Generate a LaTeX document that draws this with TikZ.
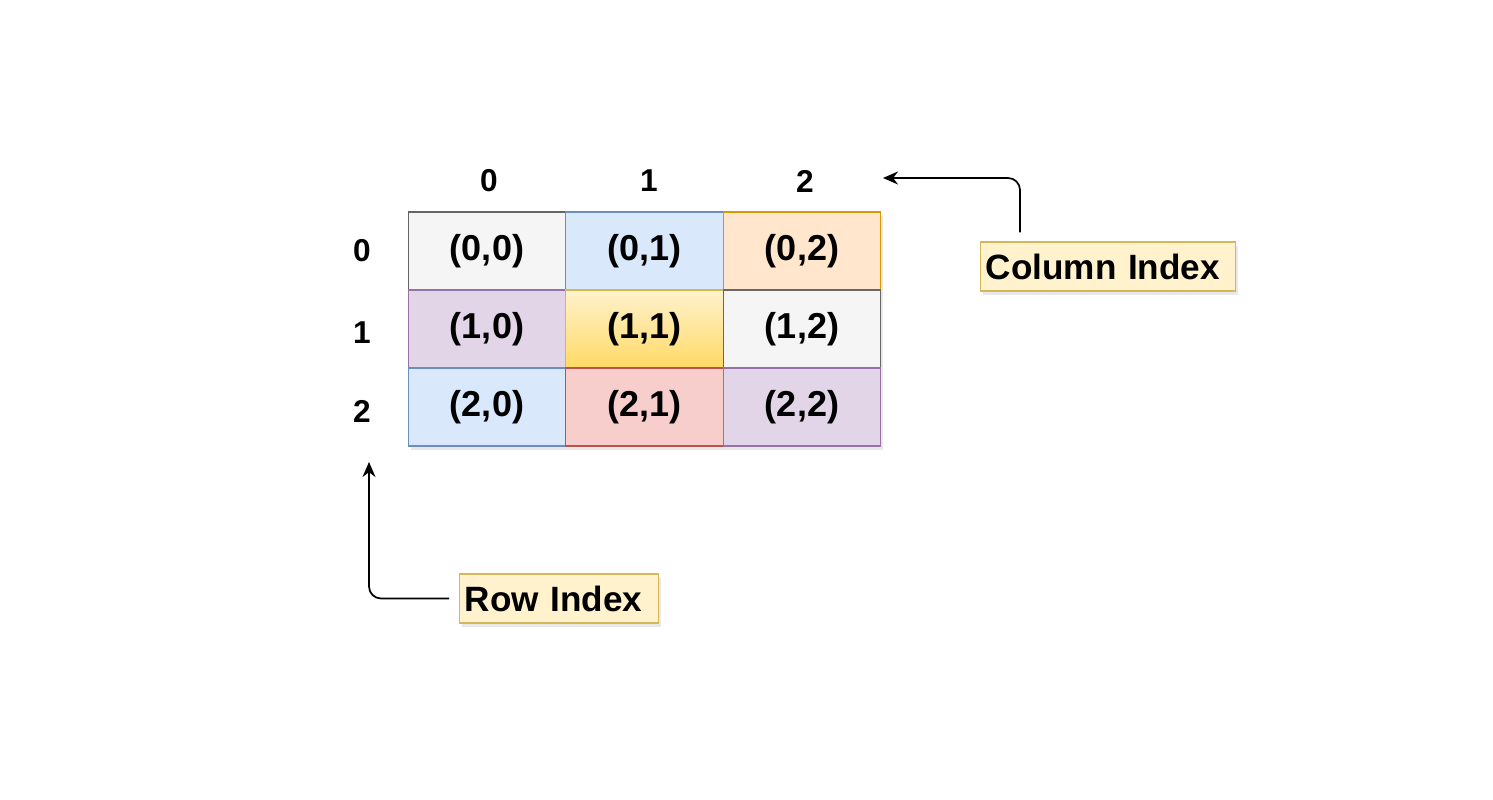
\documentclass[tikz,border=0pt]{standalone}
\usepackage{fontspec}
\setmainfont{Liberation Sans}
\usetikzlibrary{arrows.meta,shadows}

\definecolor{grayfill}{HTML}{F5F5F5}
\definecolor{graydraw}{HTML}{666666}
\definecolor{bluefill}{HTML}{DAE8FC}
\definecolor{bluedraw}{HTML}{6C8EBF}
\definecolor{orangefill}{HTML}{FFE6CC}
\definecolor{orangedraw}{HTML}{D79B00}
\definecolor{purplefill}{HTML}{E1D5E7}
\definecolor{purpledraw}{HTML}{9673A6}
\definecolor{redfill}{HTML}{F8CECC}
\definecolor{reddraw}{HTML}{B85450}
\definecolor{yellowfill}{HTML}{FFF2CC}
\definecolor{yellowdark}{HTML}{FFD966}
\definecolor{yellowdraw}{HTML}{D6B656}

\begin{document}
\begin{tikzpicture}[x=0.02cm,y=-0.02cm]
\tikzset{
  cell/.style={draw,line width=0.8pt,minimum width=3.15cm,minimum height=1.56cm,inner sep=0pt,
    font=\bfseries\fontsize{20.5}{24}\selectfont,
    drop shadow={opacity=0.18,shadow xshift=1.5pt,shadow yshift=-2pt}},
  index/.style={font=\bfseries\fontsize{18}{21}\selectfont,inner sep=1pt},
  note/.style={draw=yellowdraw,fill=yellowfill,line width=0.8pt,anchor=west,inner xsep=0.1cm,
    minimum height=0.98cm,align=left,font=\bfseries\fontsize{20}{24}\selectfont,
    drop shadow={opacity=0.18,shadow xshift=1.5pt,shadow yshift=-2pt}},
  pointer/.style={-{Stealth[length=3mm,width=2.6mm]},line width=1pt,rounded corners=0.24cm}
}
\useasboundingbox (0,0) rectangle (1493,800);
% grid cells
\node[cell,fill=grayfill,draw=graydraw] (c_00) at (487,251) {(0,0)};
\node[cell,fill=bluefill,draw=bluedraw] (c_01) at (644.5,251) {(0,1)};
\node[cell,fill=orangefill,draw=orangedraw] (c_02) at (802,251) {(0,2)};
\node[cell,fill=purplefill,draw=purpledraw] (c_10) at (487,329) {(1,0)};
\node[cell,top color=yellowfill,bottom color=yellowdark,draw=yellowdraw] (c_11) at (644.5,329) {(1,1)};
\node[cell,fill=grayfill,draw=graydraw] (c_12) at (802,329) {(1,2)};
\node[cell,fill=bluefill,draw=bluedraw] (c_20) at (487,407) {(2,0)};
\node[cell,fill=redfill,draw=reddraw] (c_21) at (644.5,407) {(2,1)};
\node[cell,fill=purplefill,draw=purpledraw] (c_22) at (802,407) {(2,2)};
% indices
\node[index] (h_c0) at (489,181) {0};
\node[index] (h_c1) at (649,181) {1};
\node[index] (h_c2) at (805,181) {2};
\node[index] (h_r0) at (362,251) {0};
\node[index] (h_r1) at (362,333) {1};
\node[index] (h_r2) at (362,411) {2};
% notes
\node[note,text width=4.9cm] (n_col) at (980,266.5) {Column Index};
\node[note,text width=3.78cm] (n_row) at (459,598.5) {Row Index};
\coordinate (t_col) at (883,178);
\coordinate (t_row) at (369,462);
\draw[pointer] ([xshift=0.8cm,yshift=0.18cm]n_col.north west) |- (t_col);
\draw[pointer] ([xshift=-0.2cm]n_row.west) -| (t_row);
\end{tikzpicture}
\end{document}
